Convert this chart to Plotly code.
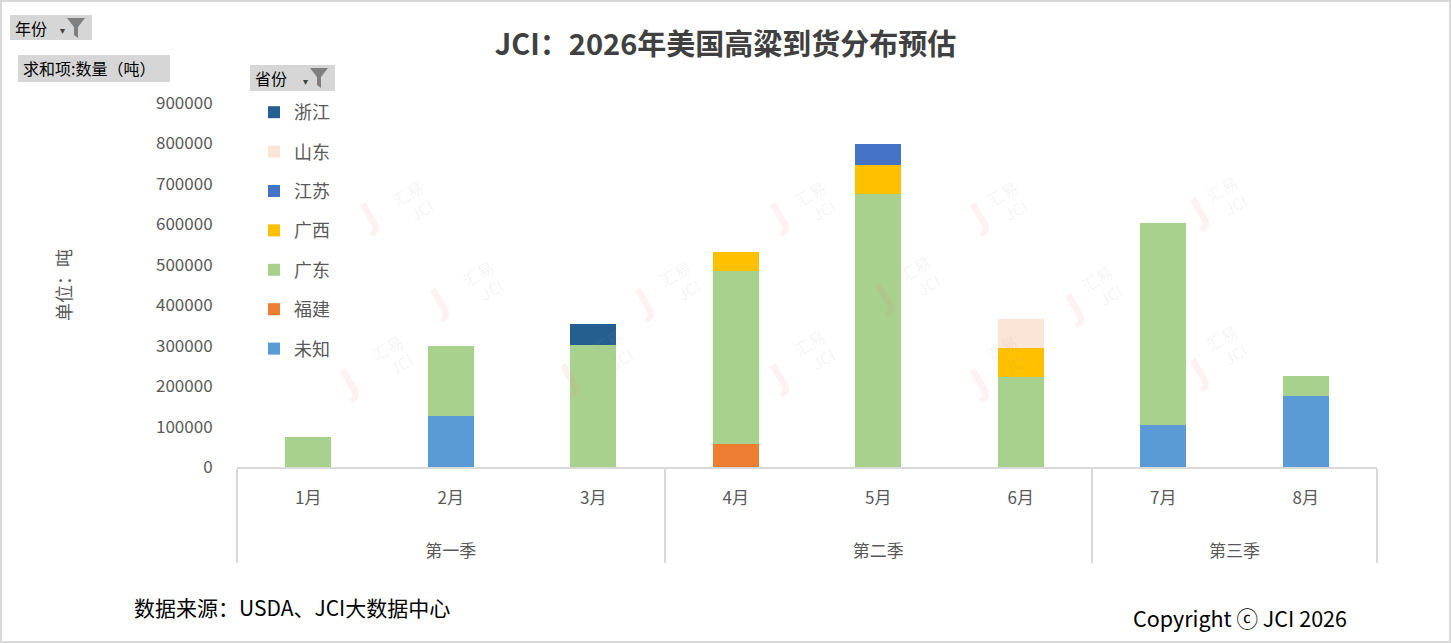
import plotly.graph_objects as go

# 数据
months = ["1月", "2月", "3月", "4月", "5月", "6月", "7月", "8月"]
quarters = ["第一季", "第一季", "第一季", "第二季", "第二季", "第二季", "第三季", "第三季"]
provinces = ["未知", "福建", "广东", "广西", "江苏", "山东", "浙江"]
unknown = [0, 125000, 0, 0, 0, 0, 104000, 176000]
fujian = [0, 0, 0, 58000, 0, 0, 0, 0]
guangdong = [75000, 173000, 301000, 426000, 676000, 223000, 499000, 49000]
guangxi = [0, 0, 0, 47000, 70000, 72000, 0, 0]
jiangsu = [0, 0, 0, 0, 52000, 0, 0, 0]
shandong = [0, 0, 0, 0, 0, 71000, 0, 0]
zhejiang = [0, 0, 52000, 0, 0, 0, 0, 0]
yticks = [0, 100000, 200000, 300000, 400000, 500000, 600000, 700000, 800000, 900000]

series = [unknown, fujian, guangdong, guangxi, jiangsu, shandong, zhejiang]
colors = ["#5B9BD5", "#ED7D31", "#A9D18E", "#FFC000", "#4472C4", "#FBE5D6", "#255E91"]

FONT = "Microsoft YaHei, Noto Sans CJK SC, sans-serif"

# 绘图区像素位置 -> paper 坐标
L, R, T, B = 237, 1377, 103, 467
def px(x):
    return (x - L) / (R - L)
def py(y):
    return (B - y) / (B - T)

# 月份标签后加空行，把季度标签往下推
month_labels = [m + "<br> <br><span style='font-size:4px'> </span>" for m in months]

fig = go.Figure()
for i, (name, vals, col) in enumerate(zip(provinces, series, colors)):
    fig.add_trace(go.Bar(
        x=[quarters, month_labels],
        y=vals,
        name=name,
        legendgroup=name,
        legendrank=len(provinces) - i,
        marker=dict(color=col, line=dict(width=0)),
    ))

fig.update_layout(
    barmode="stack",
    bargap=0.68,
    width=1451, height=643,
    margin=dict(l=L, r=1451 - R, t=T, b=643 - B, autoexpand=False),
    paper_bgcolor="white",
    plot_bgcolor="white",
    font=dict(family=FONT, size=17, color="#595959"),
    title=dict(
        text="<b>JCI：2026年美国高粱到货分布预估</b>",
        x=0.5, xanchor="center", y=1 - 45 / 643, yanchor="middle",
        font=dict(family=FONT, size=29, color="#404040"),
    ),
    showlegend=True,
    legend=dict(
        x=px(254), y=py(94), xanchor="left", yanchor="top",
        traceorder="grouped", tracegroupgap=13,
        bgcolor="rgba(0,0,0,0)",
        font=dict(family=FONT, size=18, color="#595959"),
    ),
)

fig.update_xaxes(
    type="multicategory",
    showline=True, linecolor="#d9d9d9", linewidth=2,
    showdividers=True, dividercolor="#d9d9d9", dividerwidth=2,
    ticks="", showgrid=False, ticklabelstandoff=15,
    tickfont=dict(family=FONT, size=17, color="#595959"),
)
fig.update_yaxes(
    range=[0, 900000],
    tickvals=yticks, tickformat="d",
    showgrid=False, showline=False, zeroline=False,
    ticks="outside", ticklen=20, tickcolor="rgba(0,0,0,0)",
    tickfont=dict(family=FONT, size=17, color="#595959"),
    title=dict(text="单位：吨", standoff=79, font=dict(family=FONT, size=18, color="#595959")),
)

shapes = []
annotations = []

# 外框
shapes.append(dict(type="rect", xref="paper", yref="paper",
                   x0=px(1), x1=px(1450), y0=py(642), y1=py(1),
                   line=dict(color="#d9d9d9", width=2), fillcolor="rgba(0,0,0,0)"))

# 数据透视图按钮
def funnel(fx, fy):
    pts = [(fx, fy), (fx + 18, fy), (fx + 11, fy + 9), (fx + 11, fy + 20), (fx + 7, fy + 17), (fx + 7, fy + 9)]
    path = "M " + " L ".join(f"{px(a)},{py(b)}" for a, b in pts) + " Z"
    return dict(type="path", xref="paper", yref="paper", path=path,
                fillcolor="#7f7f7f", line=dict(width=0))

buttons = [
    (10, 92, 15, 40, "年份", True),
    (18, 170, 55, 82, "求和项:数量（吨）", False),
    (250, 335, 65, 91, "省份", True),
]
for x0, x1, y0, y1, label, has_filter in buttons:
    shapes.append(dict(type="rect", xref="paper", yref="paper",
                       x0=px(x0), x1=px(x1), y0=py(y1), y1=py(y0),
                       fillcolor="#d6d6d6", line=dict(width=0), layer="below"))
    annotations.append(dict(x=px(x0 + 3), y=py((y0 + y1) / 2), xref="paper", yref="paper",
                            text=label, showarrow=False, xanchor="left", yanchor="middle",
                            font=dict(family=FONT, size=16, color="#000000")))
    if has_filter:
        annotations.append(dict(x=px(x1 - 30), y=py((y0 + y1) / 2 + 2), xref="paper", yref="paper",
                                text="▾", showarrow=False, xanchor="center", yanchor="middle",
                                font=dict(size=10, color="#404040")))
        shapes.append(funnel(x1 - 25, y0 + 3))

# 水印
wm_pos = [(370, 180), (800, 180), (1020, 180), (1240, 175),
          (440, 290), (665, 290), (905, 285), (1115, 295),
          (350, 395), (570, 390), (800, 390), (1020, 395), (1240, 385)]
for wx, wy in wm_pos:
    annotations.append(dict(x=px(wx - 22), y=py(wy + 12), xref="paper", yref="paper",
                            text="<b>J</b>", showarrow=False, textangle=-30,
                            font=dict(family="DejaVu Sans", size=36, color="rgba(235,110,110,0.09)")))
    annotations.append(dict(x=px(wx + 15), y=py(wy - 8), xref="paper", yref="paper",
                            text="汇易<br>  JCI", showarrow=False, textangle=-30,
                            font=dict(family=FONT, size=16, color="rgba(160,160,160,0.13)")))

# 底部文字
annotations.append(dict(x=px(132), y=py(607), xref="paper", yref="paper",
                        text="数据来源：USDA、JCI大数据中心", showarrow=False,
                        xanchor="left", yanchor="middle",
                        font=dict(family=FONT, size=21, color="#000000")))
annotations.append(dict(x=px(1349), y=py(617), xref="paper", yref="paper",
                        text="Copyright ⓒ JCI 2026", showarrow=False,
                        xanchor="right", yanchor="middle",
                        font=dict(family=FONT, size=21.5, color="#000000")))

fig.update_layout(shapes=shapes, annotations=annotations)

fig.write_html("out.html", config={"displayModeBar": False},
               post_script="document.body.style.margin='0';")
